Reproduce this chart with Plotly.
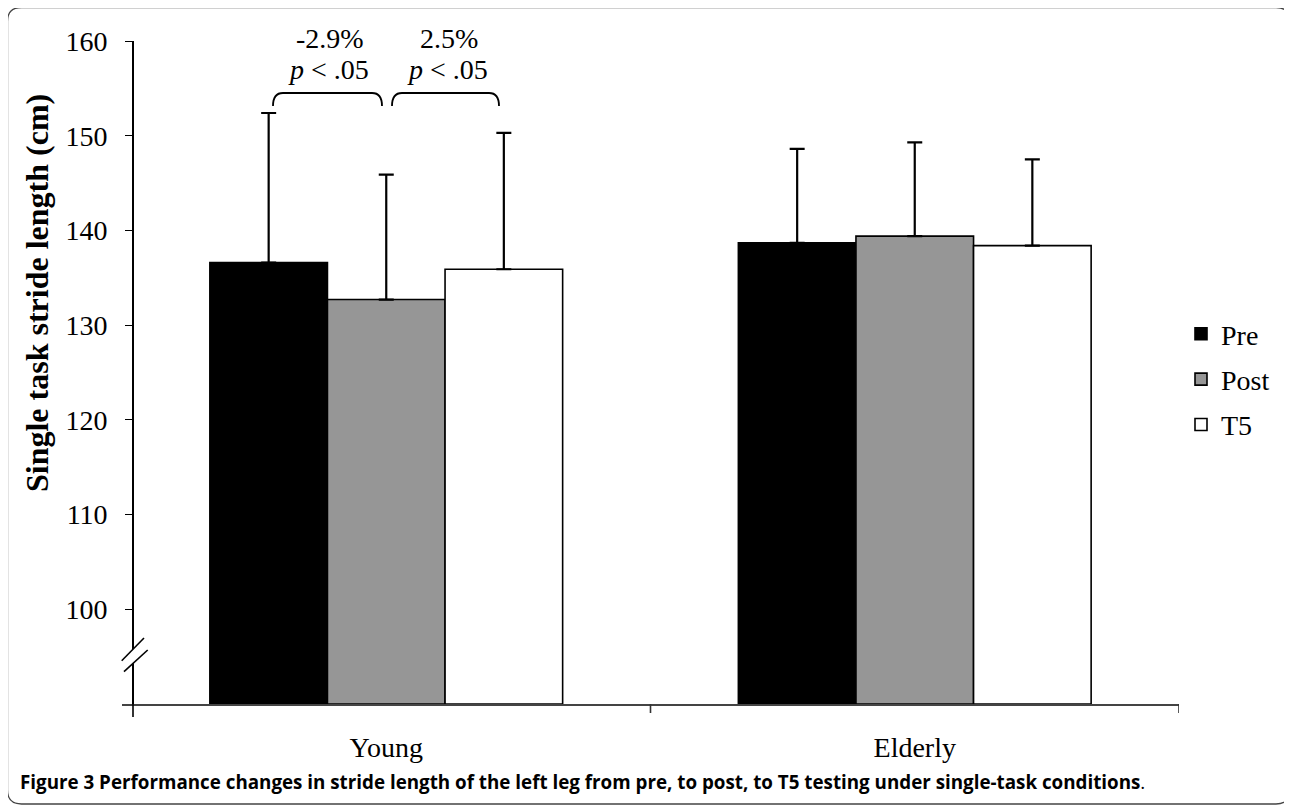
import plotly.graph_objects as go

# ---- data ----
groups = ["Young", "Elderly"]
series_names = ["Pre", "Post", "T5"]
pre_vals = [136.6, 138.7]
post_vals = [132.7, 139.4]
t5_vals = [135.9, 138.4]
pre_sd = [15.8, 9.9]
post_sd = [13.2, 9.9]
t5_sd = [14.4, 9.1]
y_ticks = [100, 110, 120, 130, 140, 150, 160]
ann_change = ["-2.9%", "2.5%"]
ann_p = ["<i>p</i> < .05", "<i>p</i> < .05"]
caption = ("<b>Figure 3 Performance changes in stride length of the left leg from pre, "
           "to post, to T5 testing under single-task conditions</b>.")

# ---- layout geometry (page pixels; page body has an 8px margin) ----
PAGE_W, PAGE_H, OFF = 1292, 807, 8
W, H = PAGE_W - OFF, PAGE_H - OFF
L, R, T, B = 122, 1179, 41, 704
PW, PH = R - L, B - T

def px(x):
    return (x - L) / PW

def py(y):
    return (B - y) / PH

serif = "Times New Roman, Liberation Serif, serif"
fs = 28
fills = ["#000000", "#969696", "#ffffff"]
vals = [pre_vals, post_vals, t5_vals]
sds = [pre_sd, post_sd, t5_sd]

fig = go.Figure()
for name, v, sd, c in zip(series_names, vals, sds, fills):
    fig.add_trace(go.Bar(
        x=groups, y=[val - 90 for val in v], base=90, name=name,
        marker=dict(color=c, line=dict(color="black", width=1.6)),
        error_y=dict(type="data", symmetric=False, array=sd, arrayminus=[0] * len(sd),
                     color="black", thickness=2.2, width=7.5),
        legendgroup=name,
    ))

shapes = []
# y axis extension below baseline
shapes.append(dict(type="line", xref="paper", yref="paper",
                   x0=px(133), x1=px(133), y0=py(704), y1=py(717),
                   line=dict(color="black", width=1.6)))
# x category boundary ticks
for xv in [0.5, 1.5]:
    shapes.append(dict(type="line", xref="x", yref="paper", x0=xv, x1=xv,
                       y0=py(704), y1=py(713), line=dict(color="#333", width=1.6)))
# axis break: white gap + two slashes
gap_path = "M {} {} L {} {} L {} {} L {} {} Z".format(
    px(121.7), py(660.7), px(144), py(638), px(147.7), py(650), px(124), py(671.7))
shapes.append(dict(type="path", xref="paper", yref="paper", path=gap_path,
                   fillcolor="white", line=dict(width=0)))
for (x0, y0, x1, y1) in [(121.7, 660.7, 144, 638), (124, 671.7, 147.7, 650)]:
    shapes.append(dict(type="line", xref="paper", yref="paper",
                       x0=px(x0), y0=py(y0), x1=px(x1), y1=py(y1),
                       line=dict(color="black", width=1.6)))

# brackets
def bracket(xa, xb, ytop=93, yend=106, r=10):
    return ("M {} {} Q {} {} {} {} L {} {} Q {} {} {} {}".format(
        px(xa), py(yend), px(xa), py(ytop), px(xa + r), py(ytop),
        px(xb - r), py(ytop), px(xb), py(ytop), px(xb), py(yend)))
for xa, xb in [(273, 382), (392, 499)]:
    shapes.append(dict(type="path", xref="paper", yref="paper", path=bracket(xa, xb),
                       line=dict(color="black", width=1.8)))

# rounded frame
fx0, fy0, fx1, fy1, rr = 7.5, 7.5, 1290, 804, 14
frame = ("M {} {} L {} {} Q {} {} {} {} L {} {} Q {} {} {} {} L {} {} Q {} {} {} {} "
         "L {} {} Q {} {} {} {} Z").format(
    px(fx0 + rr), py(fy0), px(fx1 - rr), py(fy0), px(fx1), py(fy0), px(fx1), py(fy0 + rr),
    px(fx1), py(fy1 - rr), px(fx1), py(fy1), px(fx1 - rr), py(fy1),
    px(fx0 + rr), py(fy1), px(fx0), py(fy1), px(fx0), py(fy1 - rr),
    px(fx0), py(fy0 + rr), px(fx0), py(fy0), px(fx0 + rr), py(fy0))
shapes.append(dict(type="path", xref="paper", yref="paper", path=frame,
                   line=dict(color="#444", width=1.3), layer="below"))

annotations = []
for cx, txt in zip([330, 449], ann_change):
    annotations.append(dict(x=px(cx), y=py(38), xref="paper", yref="paper", text=txt,
                            showarrow=False, xanchor="center", yanchor="middle",
                            font=dict(family=serif, size=fs, color="black")))
for cx, txt in zip([328, 447], ann_p):
    annotations.append(dict(x=px(cx), y=py(70), xref="paper", yref="paper", text=txt,
                            showarrow=False, xanchor="center", yanchor="middle",
                            font=dict(family=serif, size=fs, color="black")))
annotations.append(dict(x=px(37), y=py(293), xref="paper", yref="paper",
                        text="<b>Single task stride length (cm)</b>", textangle=-90,
                        showarrow=False, xanchor="center", yanchor="middle",
                        font=dict(family=serif, size=32, color="black")))
annotations.append(dict(x=px(18), y=py(782), xref="paper", yref="paper", text=caption,
                        showarrow=False, xanchor="left", yanchor="middle",
                        font=dict(family="Open Sans, sans-serif", size=18.8, color="black")))

fig.update_layout(
    width=W, height=H, autosize=False,
    margin=dict(l=L - OFF, r=PAGE_W - R, t=T - OFF, b=PAGE_H - B, pad=0),
    paper_bgcolor="white", plot_bgcolor="white",
    barmode="group", bargap=0.3325, bargroupgap=0,
    showlegend=True,
    legend=dict(x=px(1181), y=py(309), xanchor="left", yanchor="top",
                font=dict(family=serif, size=fs, color="black"),
                tracegroupgap=6, traceorder="grouped", bgcolor="rgba(0,0,0,0)",
                itemwidth=30),
    xaxis=dict(type="category", range=[-0.5, 1.5], showline=True, linecolor="#444",
               linewidth=1.6, ticks="", showgrid=False, zeroline=False,
               tickfont=dict(family=serif, size=fs, color="black"),
               ticklabelstandoff=18),
    yaxis=dict(range=[90, 160], tickvals=y_ticks, showline=True, linecolor="black",
               linewidth=1.6, ticks="outside", ticklen=7, tickwidth=1.4, tickcolor="black",
               showgrid=False, zeroline=False, anchor="free", position=px(133),
               tickfont=dict(family=serif, size=fs, color="black"),
               ticklabelstandoff=12),
    shapes=shapes, annotations=annotations,
)

fig.write_html("out.html")
